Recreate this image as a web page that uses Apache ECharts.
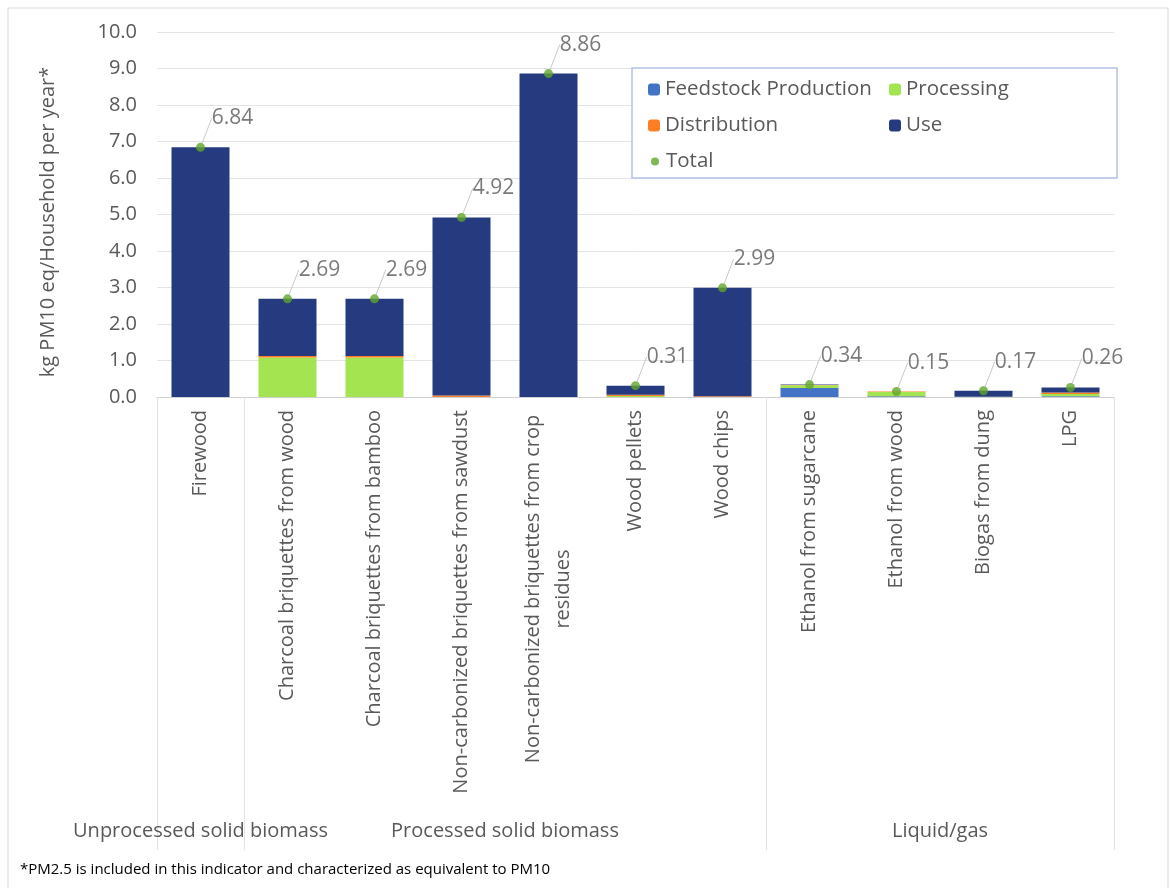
<!DOCTYPE html>
<html>
<head>
<meta charset="utf-8">
<script src="https://cdn.jsdelivr.net/npm/echarts@6/dist/echarts.min.js"></script>
<style>
html,body{margin:0;padding:0;background:#fff;}
#main{width:1171px;height:888px;}
</style>
</head>
<body>
<div id="main"></div>
<script>
const categories = [
  'Firewood',
  'Charcoal briquettes from wood',
  'Charcoal briquettes from bamboo',
  'Non-carbonized briquettes from sawdust',
  'Non-carbonized briquettes from crop\nresidues',
  'Wood pellets',
  'Wood chips',
  'Ethanol from sugarcane',
  'Ethanol from wood',
  'Biogas from dung',
  'LPG'
];
const feedstock    = [0, 0, 0, 0, 0, 0, 0, 0.25, 0.02, 0, 0.02];
const processing   = [0, 1.08, 1.08, 0, 0, 0.03, 0, 0.07, 0.12, 0.01, 0.06];
const distribution = [0, 0.04, 0.04, 0.04, 0, 0.03, 0.02, 0.01, 0.01, 0, 0.04];
const use          = [6.84, 1.57, 1.57, 4.88, 8.86, 0.25, 2.97, 0.01, 0, 0.16, 0.14];
const total        = [6.84, 2.69, 2.69, 4.92, 8.86, 0.31, 2.99, 0.34, 0.15, 0.17, 0.26];
const groupNames = ['Unprocessed solid biomass', 'Processed solid biomass', 'Liquid/gas'];
const groupFirst = [0, 1, 7];
const groupLast  = [0, 6, 10];
const yTicks = [0,1,2,3,4,5,6,7,8,9,10];
const yTitle = 'kg PM10 eq/Household per year*';
const footnote = '*PM2.5 is included in this indicator and characterized as equivalent to PM10';

const FONT = '"Open Sans", "Noto Sans", sans-serif';
const TXT = '#595959';
const C_FEED = '#4472c4', C_PROC = '#a5e451', C_DIST = '#fd7f23', C_USE = '#253a7f', C_TOT = '#62a52c';

const groupCenters = groupFirst.map((s, i) => (s + groupLast[i]) / 2);
const boundaries = [groupFirst[0] - 0.5].concat(groupLast.map(e => e + 0.5));

const chart = echarts.init(document.getElementById('main'), null, {renderer: 'canvas'});

function barSeries(name, data, color) {
  return {
    name, type: 'bar', stack: 'total', data, barWidth: 58,
    itemStyle: {color}, emphasis: {disabled: true}
  };
}

function catLabel(v) {
  const lines = v.split('\n');
  if (lines.length === 1) return v;
  return lines.map(l => '{w|' + l + '}').join('\n');
}

const option = {
  animation: false,
  textStyle: {fontFamily: FONT},
  grid: {left: 157, right: 57, top: 32, bottom: 491, containLabel: false},
  graphic: [
    {type: 'rect', shape: {x: 8, y: 8, width: 1160, height: 890}, style: {fill: 'none', stroke: '#d9d9d9', lineWidth: 1}, silent: true},
    {type: 'rect', shape: {x: 632, y: 68, width: 485, height: 110}, style: {fill: '#fff', stroke: '#b4c4e8', lineWidth: 1.5}, z: 1, silent: true},
    {type: 'text', left: 20, top: 862, style: {text: footnote, font: '15px ' + FONT, fill: '#000'}, silent: true},
    {type: 'text', x: 48, y: 222, rotation: Math.PI / 2,
     style: {text: yTitle, font: '20px ' + FONT, fill: TXT, align: 'center', verticalAlign: 'middle'}, silent: true}
  ],
  legend: [
    {
      data: ['Feedstock Production', 'Distribution'], orient: 'vertical', left: 643, top: 74,
      itemWidth: 12, itemHeight: 12, itemGap: 15, z: 5,
      textStyle: {fontSize: 20.5, color: TXT, fontFamily: FONT}
    },
    {
      data: ['Processing', 'Use'], orient: 'vertical', left: 884, top: 74,
      itemWidth: 12, itemHeight: 12, itemGap: 15, z: 5,
      textStyle: {fontSize: 20.5, color: TXT, fontFamily: FONT}
    },
    {
      data: ['Total'], orient: 'vertical', left: 646, top: 146,
      itemWidth: 8, itemHeight: 8, z: 5,
      textStyle: {fontSize: 20.5, color: TXT, fontFamily: FONT, padding: [0, 0, 0, 2]}
    }
  ],
  xAxis: [
    {
      type: 'category', data: categories, position: 'bottom',
      axisLine: {show: true, lineStyle: {color: '#d0d0d0'}},
      axisTick: {show: false},
      axisLabel: {
        rotate: 90, interval: 0, margin: 13, fontSize: 20, color: TXT, fontFamily: FONT, lineHeight: 30,
        formatter: catLabel,
        rich: {w: {width: 358, align: 'center', fontSize: 20, color: TXT, fontFamily: FONT, lineHeight: 30}}
      }
    },
    {
      type: 'value', min: -0.5, max: categories.length - 0.5, position: 'bottom',
      axisLine: {show: false}, splitLine: {show: false},
      axisTick: {show: true, customValues: boundaries, length: 453, lineStyle: {color: '#e3e3e3'}},
      axisLabel: {
        show: true, customValues: groupCenters, margin: 424, fontSize: 20, color: TXT, fontFamily: FONT,
        formatter: v => { const i = groupCenters.indexOf(v); return i >= 0 ? groupNames[i] : ''; }
      }
    }
  ],
  yAxis: {
    type: 'value', min: 0, max: 10, interval: 1,
    axisLine: {show: false}, axisTick: {show: false},
    axisLabel: {fontSize: 20, color: TXT, margin: 20, fontFamily: FONT, formatter: v => yTicks.includes(v) ? v.toFixed(1) : ''},
    splitLine: {lineStyle: {color: '#e4e4e4'}}
  },
  series: [
    barSeries('Feedstock Production', feedstock, C_FEED),
    barSeries('Processing', processing, C_PROC),
    barSeries('Distribution', distribution, C_DIST),
    barSeries('Use', use, C_USE),
    {
      name: 'Total', type: 'scatter', data: total, symbolSize: 9, z: 10,
      itemStyle: {color: C_TOT},
      label: {
        show: true, position: 'top', distance: 2, fontSize: 21, color: TXT, fontFamily: FONT,
        formatter: p => p.value.toFixed(2)
      },
      labelLayout: {dx: 32, dy: -12},
      labelLine: {show: true, smooth: false, lineStyle: {color: '#c8c8c8', width: 1}},
      emphasis: {disabled: true}
    }
  ]
};
chart.setOption(option);
</script>
</body>
</html>
